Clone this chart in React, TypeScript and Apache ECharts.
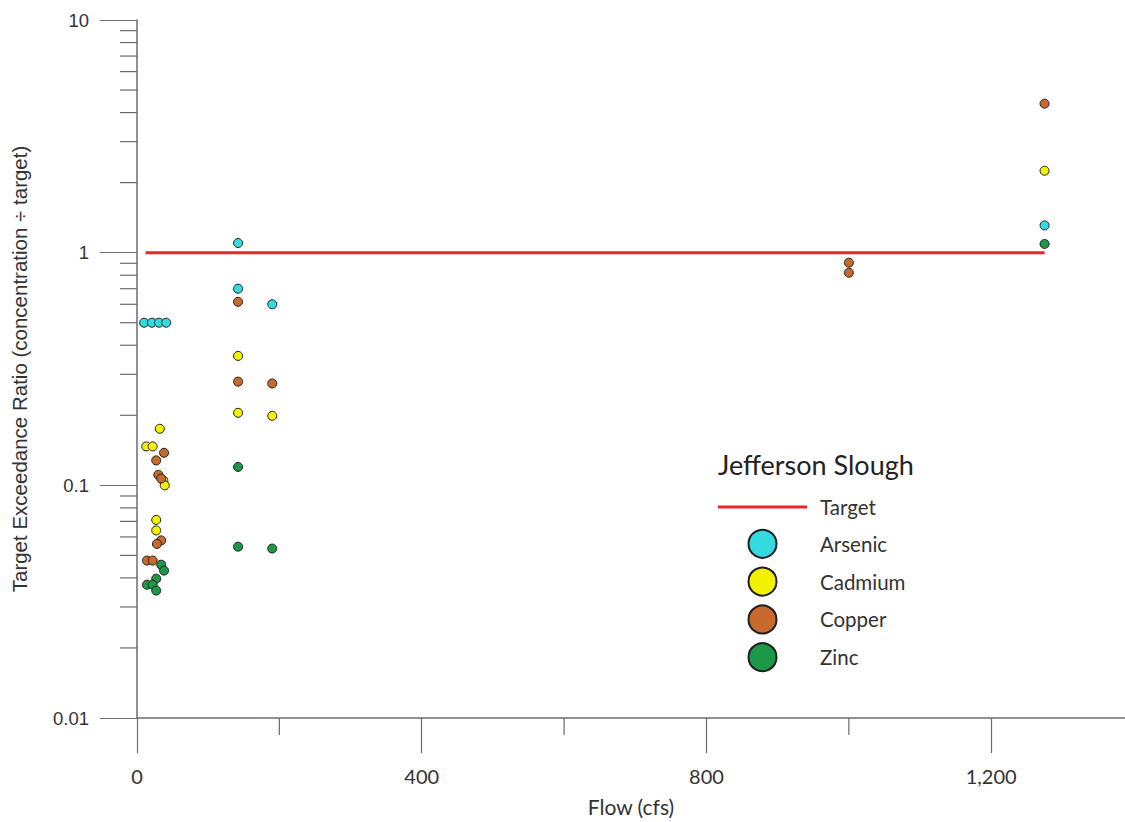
import React, { useEffect, useRef } from "react";
import * as echarts from "echarts";

const seriesNames = ["Target", "Arsenic", "Cadmium", "Copper", "Zinc"];
const seriesColors = ["#e8262b", "#33dbe0", "#f2f200", "#c8692e", "#1c9848"];

const targetFlow = [12, 1275];
const targetRatio = [1, 1];

const arsenicFlow = [10, 21, 31, 41, 142, 142, 190, 1275];
const arsenicRatio = [0.5, 0.5, 0.5, 0.5, 1.1, 0.7, 0.6, 1.31];

const cadmiumFlow = [32, 13, 22, 37, 39, 27, 27, 142, 142, 190, 1275];
const cadmiumRatio = [0.175, 0.147, 0.147, 0.105, 0.1, 0.071, 0.064, 0.36, 0.205, 0.199, 2.25];

const copperFlow = [38, 27, 30, 34, 34, 28, 14, 22, 142, 142, 190, 1000, 1000, 1275];
const copperRatio = [0.138, 0.128, 0.111, 0.107, 0.058, 0.056, 0.0475, 0.0475, 0.615, 0.279, 0.274, 0.906, 0.82, 4.37];

const zincFlow = [34, 38, 27, 14, 22, 27, 142, 142, 190, 1275];
const zincRatio = [0.0456, 0.043, 0.0397, 0.0374, 0.0374, 0.0353, 0.12, 0.0545, 0.0535, 1.09];

const xMajorTicks = [0, 400, 800, 1200];
const xMinorTicks = [200, 600, 1000];
const yMinorTicks = [
  0.02, 0.03, 0.04, 0.05, 0.06, 0.07, 0.08, 0.09,
  0.2, 0.3, 0.4, 0.5, 0.6, 0.7, 0.8, 0.9,
  2, 3, 4, 5, 6, 7, 8, 9,
];

const xTitle = "Flow (cfs)";
const yTitle = "Target Exceedance Ratio (concentration \u00f7 target)";
const legendTitle = "Jefferson Slough";

const zip = (xs: number[], ys: number[]) => xs.map((x, i) => [x, ys[i]]);

const AXIS_COLOR = "#6b6b6b";
const TEXT_COLOR = "#333333";

// thin horizontal bar inside a full 89x28 box (tiny corner marks keep the box size)
const LINE_ICON =
  "path://M0,0L0.01,0L0,0.01Z M0,12.5L89,12.5L89,15.5L0,15.5Z M89,28L88.99,28L89,27.99Z";

export default function App() {
  const ref = useRef<HTMLDivElement>(null);

  useEffect(() => {
    if (!ref.current) return;
    const chart = echarts.init(ref.current, undefined, { renderer: "svg" });

    const scatter = (idx: number, xs: number[], ys: number[]) => ({
      name: seriesNames[idx],
      type: "scatter",
      data: zip(xs, ys),
      symbol: "circle",
      symbolSize: 9,
      itemStyle: {
        color: seriesColors[idx],
        borderColor: "#1e1e1e",
        borderWidth: 1,
        opacity: 1,
      },
      z: 3,
    });

    chart.setOption({
      animation: false,
      backgroundColor: "#ffffff",
      grid: {
        left: 137,
        top: 20,
        right: 0,
        bottom: 104,
        containLabel: false,
        outerBoundsMode: "none",
      },
      title: {
        text: legendTitle,
        left: 713,
        top: 446,
        textStyle: {
          fontFamily: "Lato",
          fontSize: 27,
          fontWeight: "normal",
          color: "#222222",
        },
      },
      legend: {
        orient: "vertical",
        left: 718,
        top: 493,
        padding: 0,
        itemWidth: 89,
        itemHeight: 28,
        itemGap: 7.8,
        data: [
          { name: seriesNames[0], icon: LINE_ICON },
          seriesNames[1],
          seriesNames[2],
          seriesNames[3],
          seriesNames[4],
        ],
        selectedMode: false,
        textStyle: {
          fontFamily: "Lato",
          fontSize: 20.5,
          color: TEXT_COLOR,
          padding: [0, 0, 0, 8],
        },
      },
      xAxis: {
        type: "value",
        min: 0,
        max: 1388,
        interval: 400,
        name: xTitle,
        nameLocation: "middle",
        nameGap: 78,
        nameTextStyle: { fontFamily: "Lato", fontSize: 21, color: TEXT_COLOR },
        axisLine: { show: true, lineStyle: { color: AXIS_COLOR, width: 1.5 } },
        axisTick: {
          show: true,
          length: 35,
          customValues: xMajorTicks,
          lineStyle: { color: AXIS_COLOR, width: 1.2 },
        },
        minorTick: { show: false },
        splitLine: { show: false },
        axisLabel: {
          margin: 48,
          customValues: xMajorTicks,
          fontFamily: "Lato",
          fontSize: 20,
          color: TEXT_COLOR,
          formatter: (v: number) => v.toLocaleString("en-US"),
        },
      },
      yAxis: {
        type: "log",
        logBase: 10,
        min: 0.01,
        max: 10,
        name: yTitle,
        nameLocation: "middle",
        nameGap: 107,
        nameTextStyle: { fontFamily: "Liberation Sans", fontSize: 20.5, color: TEXT_COLOR },
        axisLine: { show: true, lineStyle: { color: AXIS_COLOR, width: 1.5 } },
        axisTick: { show: true, length: 37, lineStyle: { color: AXIS_COLOR, width: 1.2 } },
        splitLine: { show: false },
        axisLabel: {
          margin: 48,
          fontFamily: "Liberation Sans",
          fontSize: 18.5,
          color: TEXT_COLOR,
          formatter: (v: number) => String(v),
        },
      },
      series: [
        {
          name: seriesNames[0],
          type: "line",
          data: zip(targetFlow, targetRatio),
          symbol: "none",
          showSymbol: false,
          lineStyle: { color: seriesColors[0], width: 3 },
          itemStyle: { color: seriesColors[0] },
          z: 2,
        },
        scatter(1, arsenicFlow, arsenicRatio),
        scatter(2, cadmiumFlow, cadmiumRatio),
        scatter(3, copperFlow, copperRatio),
        scatter(4, zincFlow, zincRatio),
        {
          name: "yMinorTicks",
          type: "custom",
          silent: true,
          clip: false,
          data: yMinorTicks.map((v) => [0, v]),
          renderItem: (params: any, api: any) => {
            const p = api.coord([api.value(0), api.value(1)]);
            return {
              type: "line",
              shape: { x1: p[0] - 17, y1: p[1], x2: p[0], y2: p[1] },
              style: { stroke: AXIS_COLOR, lineWidth: 1.2 },
            };
          },
          z: 1,
        },
        {
          name: "xMinorTicks",
          type: "custom",
          silent: true,
          clip: false,
          data: xMinorTicks.map((v) => [v, 0.01]),
          renderItem: (params: any, api: any) => {
            const p = api.coord([api.value(0), api.value(1)]);
            return {
              type: "line",
              shape: { x1: p[0], y1: p[1], x2: p[0], y2: p[1] + 17 },
              style: { stroke: AXIS_COLOR, lineWidth: 1.2 },
            };
          },
          z: 1,
        },
      ],
    });

    return () => chart.dispose();
  }, []);

  return (
    <div
      ref={ref}
      style={{ position: "fixed", left: 0, top: 0, width: 1125, height: 822 }}
    />
  );
}
